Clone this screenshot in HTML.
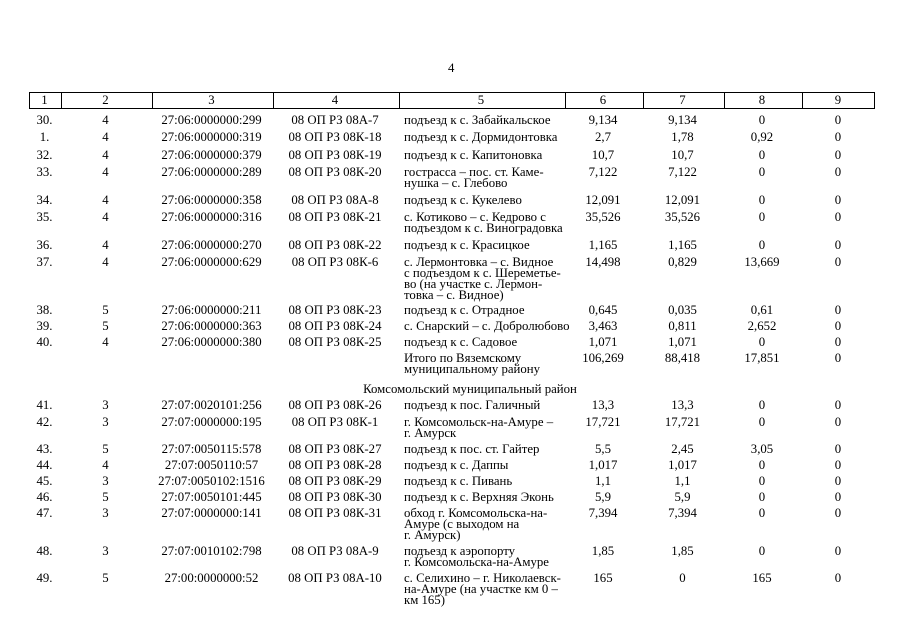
<!DOCTYPE html>
<html><head><meta charset="utf-8"><style>
body{margin:0;width:905px;height:640px;background:#fff;position:relative;overflow:hidden;font-family:"Liberation Serif",serif;font-size:12.8px;color:#000}
.c{position:absolute;text-align:center;line-height:11px;white-space:nowrap}
.t{position:absolute;left:404px;line-height:11px;white-space:nowrap}
.hdr{position:absolute;left:29px;top:92px;width:846px;height:17px;border:1px solid #000;box-sizing:border-box}
.v{position:absolute;top:0;height:100%;border-left:1px solid #000}
.h{position:absolute;top:95px;line-height:11px;text-align:center}
</style></head><body>
<div style="position:absolute;left:448px;top:61px">4</div>
<div class="hdr">
<div class="v" style="left:31px"></div><div class="v" style="left:122px"></div><div class="v" style="left:243px"></div><div class="v" style="left:369px"></div><div class="v" style="left:535px"></div><div class="v" style="left:613px"></div><div class="v" style="left:694px"></div><div class="v" style="left:772px"></div>
</div>
<div class="h" style="left:29px;width:31px">1</div>
<div class="h" style="left:60px;width:91px">2</div>
<div class="h" style="left:151px;width:121px">3</div>
<div class="h" style="left:272px;width:126px">4</div>
<div class="h" style="left:398px;width:166px">5</div>
<div class="h" style="left:564px;width:78px">6</div>
<div class="h" style="left:642px;width:81px">7</div>
<div class="h" style="left:723px;width:78px">8</div>
<div class="h" style="left:801px;width:74px">9</div>
<div id="rows"></div>
<script>
var R=[
[115,"30.","4","27:06:0000000:299","08 ОП РЗ 08А-7","подъезд к с. Забайкальское","9,134","9,134","0","0"],
[132,"1.","4","27:06:0000000:319","08 ОП РЗ 08К-18","подъезд к с. Дормидонтовка","2,7","1,78","0,92","0"],
[150,"32.","4","27:06:0000000:379","08 ОП РЗ 08К-19","подъезд к с. Капитоновка","10,7","10,7","0","0"],
[167,"33.","4","27:06:0000000:289","08 ОП РЗ 08К-20","гострасса – пос. ст. Каме-<br>нушка – с. Глебово","7,122","7,122","0","0"],
[195,"34.","4","27:06:0000000:358","08 ОП РЗ 08А-8","подъезд к с. Кукелево","12,091","12,091","0","0"],
[212,"35.","4","27:06:0000000:316","08 ОП РЗ 08К-21","с. Котиково – с. Кедрово с<br>подъездом к с. Виноградовка","35,526","35,526","0","0"],
[240,"36.","4","27:06:0000000:270","08 ОП РЗ 08К-22","подъезд к с. Красицкое","1,165","1,165","0","0"],
[257,"37.","4","27:06:0000000:629","08 ОП РЗ 08К-6","с. Лермонтовка – с. Видное<br>с подъездом к с. Шереметье-<br>во (на участке с. Лермон-<br>товка – с. Видное)","14,498","0,829","13,669","0"],
[305,"38.","5","27:06:0000000:211","08 ОП РЗ 08К-23","подъезд к с. Отрадное","0,645","0,035","0,61","0"],
[321,"39.","5","27:06:0000000:363","08 ОП РЗ 08К-24","с. Снарский – с. Добролюбово","3,463","0,811","2,652","0"],
[337,"40.","4","27:06:0000000:380","08 ОП РЗ 08К-25","подъезд к с. Садовое","1,071","1,071","0","0"],
[353,"","","","","Итого по Вяземскому<br>муниципальному району","106,269","88,418","17,851","0"],
[400,"41.","3","27:07:0020101:256","08 ОП РЗ 08К-26","подъезд к пос. Галичный","13,3","13,3","0","0"],
[417,"42.","3","27:07:0000000:195","08 ОП РЗ 08К-1","г. Комсомольск-на-Амуре –<br>г. Амурск","17,721","17,721","0","0"],
[444,"43.","5","27:07:0050115:578","08 ОП РЗ 08К-27","подъезд к пос. ст. Гайтер","5,5","2,45","3,05","0"],
[460,"44.","4","27:07:0050110:57","08 ОП РЗ 08К-28","подъезд к с. Даппы","1,017","1,017","0","0"],
[476,"45.","3","27:07:0050102:1516","08 ОП РЗ 08К-29","подъезд к с. Пивань","1,1","1,1","0","0"],
[492,"46.","5","27:07:0050101:445","08 ОП РЗ 08К-30","подъезд к с. Верхняя Эконь","5,9","5,9","0","0"],
[508,"47.","3","27:07:0000000:141","08 ОП РЗ 08К-31","обход г. Комсомольска-на-<br>Амуре (с выходом на<br>г. Амурск)","7,394","7,394","0","0"],
[546,"48.","3","27:07:0010102:798","08 ОП РЗ 08А-9","подъезд к аэропорту<br>г. Комсомольска-на-Амуре","1,85","1,85","0","0"],
[573,"49.","5","27:00:0000000:52","08 ОП РЗ 08А-10","с. Селихино – г. Николаевск-<br>на-Амуре (на участке км 0 –<br>км 165)","165","0","165","0"]];
var C=[[29,31],[60,91],[151,121],[272,126],null,[564,78],[642,81],[723,78],[801,74]];
var h="";
R.forEach(function(r){for(var i=0;i<9;i++){var v=r[i+1];if(i==4){h+='<div class="t" style="top:'+r[0]+'px">'+v+'</div>';}else{h+='<div class="c" style="top:'+r[0]+'px;left:'+C[i][0]+'px;width:'+C[i][1]+'px">'+v+'</div>';}}});
h+='<div class="c" style="top:384px;left:270px;width:400px">Комсомольский муниципальный район</div>';
document.getElementById("rows").innerHTML=h;
</script>
</body></html>
